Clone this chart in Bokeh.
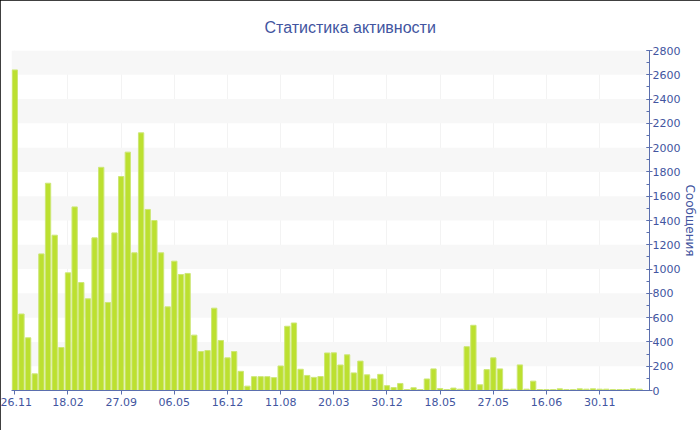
from bokeh.plotting import figure
from bokeh.models import ColumnDataSource, FixedTicker, SingleIntervalTicker, Range1d
from bokeh.embed import file_html
from bokeh.resources import INLINE

# ---- data ----
tick_labels = ["26.11", "18.02", "27.09", "06.05", "16.12", "11.08",
               "20.03", "30.12", "18.05", "27.05", "16.06", "30.11"]
bars_per_label = 8

messages = [
    2640, 630, 434, 137, 1125, 1707, 1279, 354, 969, 1512,
    889, 755, 1257, 1838, 725, 1298, 1762, 1963, 1134, 2122,
    1491, 1400, 1134, 689, 1065, 955, 964, 456, 321, 329,
    678, 412, 269, 321, 158, 36, 114, 114, 114, 106,
    202, 529, 556, 175, 124, 108, 115, 309, 310, 210,
    294, 145, 242, 129, 95, 133, 40, 24, 58, 8,
    23, 8, 95, 178, 16, 8, 20, 11, 361, 537,
    47, 172, 269, 178, 10, 11, 211, 11, 77, 8,
    8, 8, 14, 8, 8, 14, 11, 14, 11, 11,
    8, 8, 8, 14, 11,
]

title_text = "Статистика активности"
axis_title = "Сообщения"

TEXT = "#4255a0"
AXIS = "#5b6fae"
FONT = "DejaVu Sans"

X_START, X_END = -0.5, 95.5
Y_START, Y_END = 0, 2800

idx = list(range(len(messages)))
src = ColumnDataSource(dict(x=idx, y=messages))

p = figure(width=700, height=430,
           x_range=Range1d(X_START, X_END), y_range=Range1d(Y_START, Y_END),
           y_axis_location="right",
           output_backend="svg", toolbar_location=None,
           min_border_left=11, min_border_right=49,
           min_border_top=50, min_border_bottom=40,
           styles={"outline": "1px solid #000", "outline-offset": "-1px"})
p.outline_line_color = None
p.background_fill_color = "white"
p.border_fill_color = "white"

# title
p.title.text = title_text
p.title.align = "left"
p.title.offset = 253
p.title.text_font = "Liberation Sans"
p.title.text_font_size = "16px"
p.title.text_font_style = "normal"
p.title.text_color = TEXT
p.title.standoff = 29

# bars
p.vbar(x="x", top="y", width=0.8, source=src,
       fill_color="#bce030", line_color="#cde777", line_width=1)

# x axis
xt = FixedTicker(ticks=[i * bars_per_label for i in range(len(tick_labels))])
p.xaxis.ticker = xt
p.xaxis.major_label_overrides = {i * bars_per_label: t for i, t in enumerate(tick_labels)}
p.xaxis.axis_line_color = AXIS
p.xaxis.major_tick_line_color = AXIS
p.xaxis.major_tick_in = 0
p.xaxis.major_tick_out = 4
p.xaxis.minor_tick_line_color = None
p.xaxis.major_label_text_font = FONT
p.xaxis.major_label_text_font_size = "11px"
p.xaxis.major_label_text_color = TEXT
p.xaxis.major_label_standoff = 3

# y axis (right)
yt = SingleIntervalTicker(interval=200, num_minor_ticks=2)
p.yaxis.ticker = yt
p.yaxis.axis_line_color = AXIS
p.yaxis.major_tick_line_color = AXIS
p.yaxis.minor_tick_line_color = AXIS
p.yaxis.major_tick_in = 3
p.yaxis.major_tick_out = 3
p.yaxis.minor_tick_in = 3
p.yaxis.minor_tick_out = 0
p.yaxis.major_label_text_font = FONT
p.yaxis.major_label_text_font_size = "11px"
p.yaxis.major_label_text_color = TEXT
p.yaxis.major_label_standoff = 0
p.yaxis.axis_label = axis_title
p.yaxis.axis_label_text_font = FONT
p.yaxis.axis_label_text_font_size = "12px"
p.yaxis.axis_label_text_font_style = "normal"
p.yaxis.axis_label_text_color = TEXT
p.yaxis.axis_label_text_line_height = 0.8
p.yaxis.axis_label_standoff = 0

# grids
p.ygrid.ticker = yt
p.ygrid.grid_line_color = None
p.ygrid.band_fill_color = "#f7f7f7"
p.ygrid.band_fill_alpha = 1.0
p.xgrid.ticker = xt
p.xgrid.grid_line_color = "#f3f3f3"

open("out.html", "w").write(file_html(p, INLINE))
